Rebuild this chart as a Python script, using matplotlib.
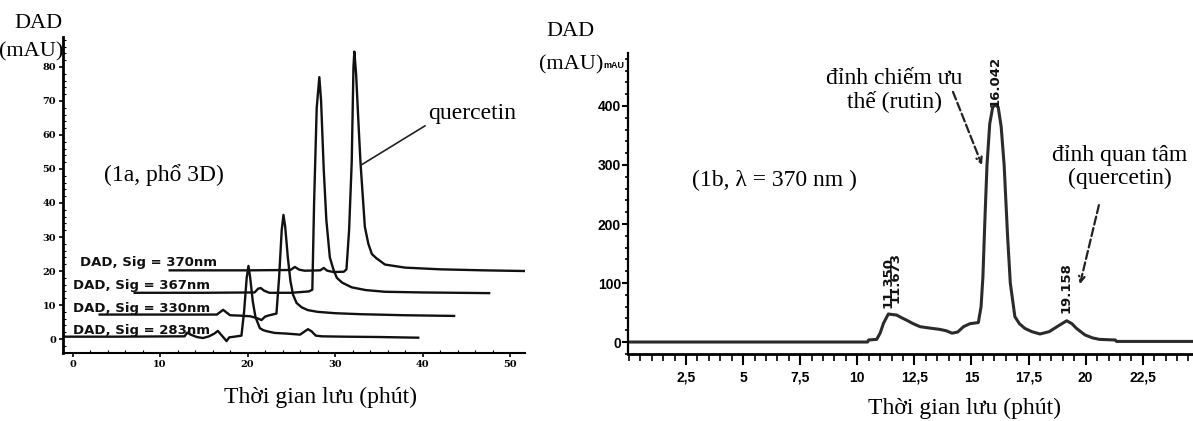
import matplotlib.pyplot as plt
from matplotlib.ticker import MultipleLocator, FixedLocator, FuncFormatter

# ---- du lieu (doc tu hinh) ----
# hinh 1a: 4 kenh DAD, moi kenh la (thoi gian, mAU)
t_283 = [-1.0, 5, 12.8, 13.1, 13.5, 14.2, 14.9, 15.6, 16.2, 16.6, 17.0, 17.4, 17.6, 17.9, 18.5,
         19.3, 19.6, 19.9, 20.1, 20.3, 20.6, 20.9, 21.4, 21.8, 22.2, 23.1, 24.5, 26.0, 26.5,
         26.9, 27.3, 27.8, 28.5, 31, 35, 39.5]
v_283 = [0.7, 0.7, 0.8, 1.9, 1.3, 0.6, 0.3, 0.8, 1.6, 2.4, 1.2, 0.0, -0.6, 0.5, 0.7,
         1.0, 8, 18, 21.5, 18, 11, 6.5, 3.2, 2.6, 2.3, 1.8, 1.6, 1.3, 2.2,
         2.9, 2.3, 1.0, 0.8, 0.7, 0.6, 0.4]

t_330 = [3.1, 10, 16.5, 16.9, 17.2, 17.6, 18.0, 19, 20.3, 21.0, 21.6, 22.0, 22.5, 23.0,
         23.3, 23.6, 23.9, 24.1, 24.3, 24.6, 24.9, 25.2, 25.6, 26.2, 26.9, 28, 30, 33, 38, 43.6]
v_330 = [7.2, 7.2, 7.2, 8.0, 8.6, 7.8, 7.0, 6.9, 6.7, 6.2, 5.6, 6.6, 7.0, 7.3,
         7.5, 18, 32, 36.5, 33, 24, 17, 13, 10.6, 9.3, 8.5, 8.0, 7.6, 7.3, 7.0, 6.8]

t_367 = [7.1, 15, 20.8, 21.2, 21.5, 21.9, 22.5, 25, 27.0, 27.4, 27.6, 27.9, 28.2, 28.4,
         28.7, 29.0, 29.4, 29.8, 30.2, 30.8, 31.9, 33.5, 35.7, 40, 47.6]
v_367 = [13.6, 13.6, 13.7, 14.8, 15.0, 14.2, 13.6, 13.6, 14.0, 14.5, 40, 68, 77, 70,
         50, 35, 24, 20.5, 18, 16.6, 15.2, 14.4, 13.9, 13.7, 13.5]

t_370 = [11.1, 20, 24.9, 25.4, 25.9, 26.5, 28.3, 28.7, 29.1, 29.8, 31.0, 31.3, 31.6, 31.9,
         32.1, 32.2, 32.4, 32.7, 32.9, 33.4, 33.8, 34.2, 34.7, 35.7, 38, 42, 47, 51.7]
v_370 = [20.2, 20.2, 20.3, 21.2, 20.4, 20.1, 20.2, 20.9, 20.1, 19.7, 19.8, 20.5, 32, 52,
         80, 84.5, 78, 62, 52, 33, 28, 25, 23.8, 21.9, 21.0, 20.5, 20.2, 20.0]

channels = ['DAD, Sig = 283nm', 'DAD, Sig = 330nm', 'DAD, Sig = 367nm', 'DAD, Sig = 370nm']
channel_label_y = [2.4, 9.0, 15.6, 22.6]
channel_label_x = [0.06, 0.06, 0.09, 0.86]

# hinh 1b: lambda = 370 nm
t_370b = [0, 10.45, 10.5, 10.85, 11.0, 11.15, 11.36, 11.55, 11.72, 11.95, 12.16, 12.45, 12.75,
          13.2, 13.6, 13.9, 14.15, 14.4, 14.65, 14.93, 15.3, 15.42, 15.5, 15.6, 15.68, 15.8,
          15.93, 16.04, 16.17, 16.3, 16.43, 16.58, 16.7, 16.9, 17.1, 17.34, 17.65, 18.0, 18.4,
          18.87, 19.17, 19.4, 19.6, 19.97, 20.3, 20.6, 21.3, 21.35, 24.7]
v_370b = [0, 0, 3.5, 4.5, 15, 32, 47.5, 46.5, 45.8, 41, 37, 31, 26,
          23.5, 21.5, 19, 15, 17, 26, 31, 33, 60, 110, 220, 300, 370,
          398, 402, 398, 365, 300, 180, 100, 43, 31, 23, 17.5, 13.6, 17.5,
          29, 36, 31, 23, 12, 7, 4.5, 3.4, 1.0, 1.0]

peak_rt = ['11.350', '11.673', '16.042', '19.158']
peak_x = [11.35, 11.67, 16.04, 19.16]
peak_lbl_y = [58, 66, 398, 49]

W, H = 1193, 421
fig = plt.figure(figsize=(W / 100, H / 100), dpi=100)

def fx(px):
    return px / W

def fy(py):
    return 1 - py / H

serif = 'Liberation Serif'
narrow = 'Liberation Sans'

# ---------- hinh 1a ----------
ax1 = fig.add_axes([fx(63), fy(353), (525 - 63) / W, (353 - 37) / H])
for t, v in [(t_283, v_283), (t_330, v_330), (t_367, v_367), (t_370, v_370)]:
    ax1.plot(t, v, color='#111111', lw=1.7, solid_joinstyle='round')
ax1.set_xlim(-1.09, 51.7)
ax1.set_ylim(-4.1, 88.8)
for name, x, y in zip(channels, channel_label_x, channel_label_y):
    ax1.text(x, y, name, fontsize=9.5, fontweight='bold', family='DejaVu Sans',
             va='center', ha='left', color='#111111')

ax1.spines['top'].set_visible(False)
ax1.spines['right'].set_visible(False)
ax1.spines['left'].set_linewidth(2.0)
ax1.spines['bottom'].set_linewidth(1.5)
ax1.xaxis.set_major_locator(FixedLocator([0, 10, 20, 30, 40, 50]))
ax1.yaxis.set_major_locator(FixedLocator([0, 10, 20, 30, 40, 50, 60, 70, 80]))
ax1.xaxis.set_minor_locator(MultipleLocator(2))
ax1.yaxis.set_minor_locator(MultipleLocator(2))
ax1.tick_params(which='major', length=3, width=1.2, pad=2, labelsize=7)
ax1.tick_params(which='minor', direction='in', length=2, width=0.8)
for lb in ax1.get_xticklabels() + ax1.get_yticklabels():
    lb.set_family('DejaVu Serif')
    lb.set_fontweight('bold')

ax1.text(10.46, 48.2, '(1a, phổ 3D)', family=serif, fontsize=17, ha='center', va='center')
ax1.annotate('quercetin', xy=(33.0, 51.2), xytext=(40.6, 63.2), family=serif, fontsize=17,
             ha='left', va='bottom',
             arrowprops=dict(arrowstyle='-', color='#222222', lw=1.2,
                             shrinkA=0, shrinkB=0, relpos=(0, 0)))

fig.text(fx(38), fy(24), 'DAD', family=serif, fontsize=16, ha='center', va='center')
fig.text(fx(31), fy(52), '(mAU)', family=serif, fontsize=16, ha='center', va='center')
fig.text(fx(320), fy(397), 'Thời gian lưu (phút)', family=serif, fontsize=17,
         ha='center', va='center')

# ---------- hinh 1b ----------
ax2 = fig.add_axes([fx(628), fy(354), 1 - fx(628), (354 - 53) / H])
ax2.plot(t_370b, v_370b, color='#2b2b2b', lw=2.2, solid_joinstyle='round')
ax2.set_xlim(-0.04, 24.7)
ax2.set_ylim(-20.3, 489.8)
ax2.spines['top'].set_visible(False)
ax2.spines['right'].set_visible(False)
ax2.spines['left'].set_linewidth(1.6)
ax2.spines['bottom'].set_linewidth(2.0)
ax2.xaxis.set_major_locator(FixedLocator([2.5, 5, 7.5, 10, 12.5, 15, 17.5, 20, 22.5]))
ax2.xaxis.set_minor_locator(MultipleLocator(0.5))
ax2.yaxis.set_major_locator(FixedLocator([0, 100, 200, 300, 400]))
ax2.yaxis.set_minor_locator(MultipleLocator(20))
ax2.xaxis.set_major_formatter(FuncFormatter(lambda x, p: f'{x:g}'.replace('.', ',')))
ax2.tick_params(axis='x', which='major', length=8, width=1.5, pad=4, labelsize=10)
ax2.tick_params(axis='x', which='minor', length=5, width=1.2)
ax2.tick_params(axis='y', which='major', length=4, width=1.5, pad=1, labelsize=10)
ax2.tick_params(axis='y', which='minor', length=2.5, width=1.2)
for lb in ax2.get_xticklabels() + ax2.get_yticklabels():
    lb.set_family(narrow)
    lb.set_fontweight('bold')

for s, x, y in zip(peak_rt, peak_x, peak_lbl_y):
    ax2.text(x, y, s, rotation=90, ha='center', va='bottom', fontsize=9.5,
             fontweight='bold', family='DejaVu Sans', color='#111111')

ax2.text(6.36, 274.6, '(1b, λ = 370 nm )', family=serif, fontsize=17, ha='center', va='center')
ax2.text(11.61, 427, 'đỉnh chiếm ưu\nthế (rutin)', family=serif, fontsize=17,
         ha='center', va='center', linespacing=1.1)
ax2.text(21.5, 296.6, 'đỉnh quan tâm\n(quercetin)', family=serif, fontsize=17,
         ha='center', va='center', linespacing=1.1)
ax2.annotate('', xy=(15.46, 300), xytext=(14.19, 424),
             arrowprops=dict(arrowstyle='->', ls='--', lw=1.6, color='#222222',
                             shrinkA=0, shrinkB=0))
ax2.annotate('', xy=(19.75, 98), xytext=(20.58, 232),
             arrowprops=dict(arrowstyle='->', ls='--', lw=1.6, color='#222222',
                             shrinkA=0, shrinkB=0))

fig.text(fx(570), fy(32), 'DAD', family=serif, fontsize=16, ha='center', va='center')
fig.text(fx(571), fy(65), '(mAU)', family=serif, fontsize=16, ha='center', va='center')
fig.text(fx(614), fy(65), 'mAU', family=narrow, fontsize=6.5, fontweight='bold',
         ha='center', va='center')
fig.text(fx(964), fy(408), 'Thời gian lưu (phút)', family=serif, fontsize=17,
         ha='center', va='center')

fig.savefig('out.png', dpi=100)
